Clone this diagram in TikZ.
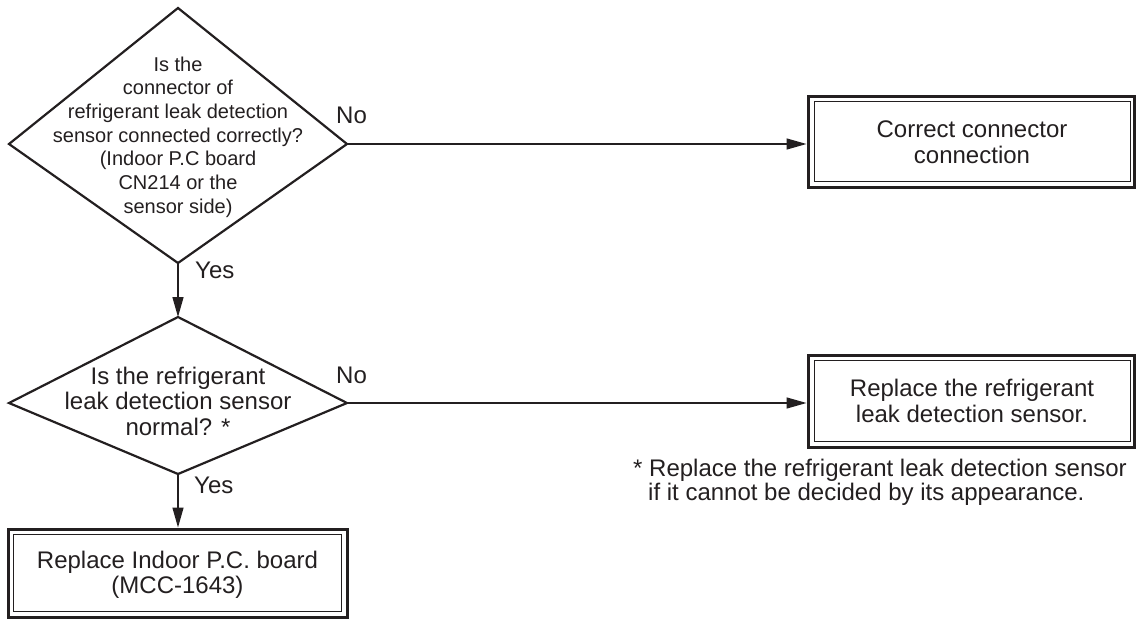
\documentclass[tikz,border=0pt]{standalone}
\usepackage{fontspec}
\setmainfont{Liberation Sans}
\usetikzlibrary{arrows.meta}
\definecolor{ink}{RGB}{35,31,32}
\newcommand{\bigtxt}{\fontsize{24}{25.5}\selectfont}
\newcommand{\smalltxt}{\fontsize{20}{23.7}\selectfont}
\tikzset{
  decision/.style={draw=ink, line width=2.2pt, line join=miter},
  outerbox/.style={draw=ink, line width=3pt, rectangle, inner sep=0pt},
  innerbox/.style={draw=ink, line width=1.1pt},
  boxtext/.style={align=center, font=\bigtxt, text=ink, inner sep=0pt},
  conn/.style={draw=ink, line width=1.4pt, -{Triangle[length=20pt,width=11pt]}},
  lbl/.style={anchor=base west, font=\bigtxt, text=ink, inner sep=0pt},
}
\begin{document}
\begin{tikzpicture}[x=1pt,y=-1pt]
\useasboundingbox (0,0) rectangle (1136,619);
% decision 1
\coordinate (d1t) at (178,8);
\coordinate (d1r) at (347,144);
\coordinate (d1b) at (178,263);
\coordinate (d1l) at (9,144);
\draw[decision] (d1t) -- (d1r) -- (d1b) -- (d1l) -- cycle;
\node[boxtext, font=\smalltxt] (q1) at (178,137) {Is the\\connector of\\refrigerant leak detection\\sensor connected correctly?\\(Indoor P.C board\\CN214 or the\\sensor side)};
% decision 2
\coordinate (d2t) at (178,317);
\coordinate (d2r) at (347,403);
\coordinate (d2b) at (178,474);
\coordinate (d2l) at (9,403);
\draw[decision] (d2t) -- (d2r) -- (d2b) -- (d2l) -- cycle;
\node[boxtext] (q2) at (178,401) {Is the refrigerant\\leak detection sensor\\normal? *};
% boxes
\node[outerbox, minimum width=326pt, minimum height=91pt] (b1) at (971,141.5) {};
\draw[innerbox] ([shift={(8pt,-7pt)}]b1.north west) rectangle ([shift={(-5pt,7pt)}]b1.south east);
\node[boxtext] (t1) at (972,142) {Correct connector\\connection};
\node[outerbox, minimum width=326pt, minimum height=92pt] (b2) at (971,401) {};
\draw[innerbox] ([shift={(8pt,-7pt)}]b2.north west) rectangle ([shift={(-5pt,7pt)}]b2.south east);
\node[boxtext] (t2) at (972,401) {Replace the refrigerant\\leak detection sensor.};
\node[outerbox, minimum width=339pt, minimum height=88pt] (b3) at (177.5,573) {};
\draw[innerbox] ([shift={(7pt,-7pt)}]b3.north west) rectangle ([shift={(-7pt,7pt)}]b3.south east);
\node[boxtext] (t3) at (177.5,575) {Replace Indoor P.C. board\\(MCC-1643)};
% connectors
\draw[conn] (d1b) -- (d2t);
\draw[conn] (d1r) -- (d1r -| b1.west);
\draw[conn] (d2r) -- (d2r -| b2.west);
\draw[conn] (d2b) -- (d2b |- b3.north);
% labels
\node[lbl] (no1) at (336,123) {No};
\node[lbl] (yes1) at (195,278) {Yes};
\node[lbl] (no2) at (336,383) {No};
\node[lbl] (yes2) at (194,493) {Yes};
% footnote
\node[lbl] (fn1) at (633,476) {* Replace the refrigerant leak detection sensor};
\node[lbl] (fn2) at (648,500) {if it cannot be decided by its appearance.};
\end{tikzpicture}
\end{document}
